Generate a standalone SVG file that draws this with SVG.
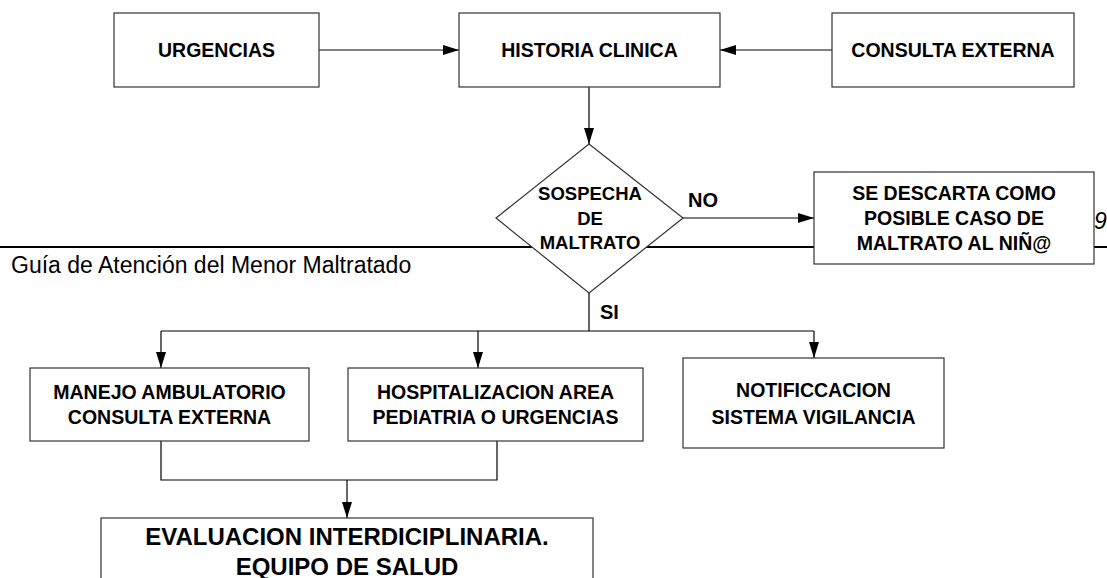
<svg xmlns="http://www.w3.org/2000/svg" width="1107" height="578" viewBox="0 0 1107 578">
<style>
  .box { fill: #ffffff; stroke: #333333; stroke-width: 1.2; }
  .t { font-family: "Liberation Sans", Arial, sans-serif; font-weight: bold; font-size: 19.5px; fill: #000; text-anchor: middle; }
  .td { font-family: "Liberation Sans", Arial, sans-serif; font-weight: bold; font-size: 18.5px; fill: #000; text-anchor: middle; }
  .tl { font-family: "Liberation Sans", Arial, sans-serif; font-weight: bold; font-size: 20px; fill: #000; }
  .big { font-family: "Liberation Sans", Arial, sans-serif; font-weight: bold; font-size: 24px; fill: #000; text-anchor: middle; }
  .c { fill: none; stroke: #000; stroke-width: 1.2; }
  .page { stroke: #000; stroke-width: 2; }
  .foot { font-family: "Liberation Sans", Arial, sans-serif; font-size: 23px; fill: #000; }
</style>
<defs>
  <marker id="ah" markerUnits="userSpaceOnUse" markerWidth="16" markerHeight="10" refX="16" refY="5" orient="auto">
    <path d="M0,0 L16,5 L0,10 Z" fill="#000"/>
  </marker>
</defs>
<rect x="0" y="0" width="1107" height="578" fill="#ffffff"/>

<!-- page separator and footer -->
<line class="page" x1="0" y1="247" x2="1107" y2="247"/>
<text class="foot" x="11" y="273">Guía de Atención del Menor Maltratado</text>
<text class="foot" x="1094" y="229" font-style="italic" font-size="19px">9</text>

<g id="connectors">
  <line class="c" x1="319" y1="50" x2="459" y2="50" marker-end="url(#ah)"/>
  <line class="c" x1="832" y1="50" x2="720" y2="50" marker-end="url(#ah)"/>
  <line class="c" x1="589" y1="87" x2="589" y2="144" marker-end="url(#ah)"/>
  <line class="c" x1="683" y1="218" x2="814" y2="218" marker-end="url(#ah)"/>
  <polyline class="c" points="589,293 589,331"/>
  <polyline class="c" points="161,331 814,331"/>
  <line class="c" x1="161" y1="331" x2="161" y2="368" marker-end="url(#ah)"/>
  <line class="c" x1="478" y1="331" x2="478" y2="368" marker-end="url(#ah)"/>
  <line class="c" x1="814" y1="331" x2="814" y2="358" marker-end="url(#ah)"/>
  <polyline class="c" points="161,441 161,480 497,480 497,441"/>
  <line class="c" x1="347" y1="480" x2="347" y2="518" marker-end="url(#ah)"/>
</g>

<g id="urgencias">
  <rect class="box" x="114" y="13" width="205" height="74"/>
  <text class="t" x="216.5" y="57">URGENCIAS</text>
</g>
<g id="historia">
  <rect class="box" x="459" y="13" width="261" height="74"/>
  <text class="t" x="589.5" y="57">HISTORIA CLINICA</text>
</g>
<g id="consulta">
  <rect class="box" x="832" y="13" width="242" height="74"/>
  <text class="t" x="953" y="57">CONSULTA EXTERNA</text>
</g>
<g id="sospecha">
  <polygon class="box" points="589,144 683,218 589,293 496,218"/>
  <text class="td" x="590" y="200">SOSPECHA</text>
  <text class="td" x="590" y="225">DE</text>
  <text class="td" x="590" y="249">MALTRATO</text>
</g>
<g id="label-no"><text class="tl" x="688" y="207">NO</text></g>
<g id="label-si"><text class="tl" x="600" y="319">SI</text></g>
<g id="descarta">
  <rect class="box" x="814" y="172" width="280" height="92"/>
  <text class="t" x="954" y="200">SE DESCARTA COMO</text>
  <text class="t" x="954" y="225">POSIBLE CASO DE</text>
  <text class="t" x="954" y="250">MALTRATO AL NIÑ@</text>
</g>
<g id="manejo">
  <rect class="box" x="30" y="368" width="279" height="73"/>
  <text class="t" x="169.5" y="399">MANEJO AMBULATORIO</text>
  <text class="t" x="169.5" y="424">CONSULTA EXTERNA</text>
</g>
<g id="hospitalizacion">
  <rect class="box" x="348" y="368" width="295" height="73"/>
  <text class="t" x="495.5" y="399">HOSPITALIZACION AREA</text>
  <text class="t" x="495.5" y="424">PEDIATRIA O URGENCIAS</text>
</g>
<g id="notificacion">
  <rect class="box" x="683" y="358" width="261" height="90"/>
  <text class="t" x="813.5" y="397">NOTIFICCACION</text>
  <text class="t" x="813.5" y="424">SISTEMA VIGILANCIA</text>
</g>
<g id="evaluacion">
  <rect class="box" x="101" y="518" width="492" height="80"/>
  <text class="big" x="347" y="545">EVALUACION INTERDICIPLINARIA.</text>
  <text class="big" x="347" y="575">EQUIPO DE SALUD</text>
</g>
</svg>
